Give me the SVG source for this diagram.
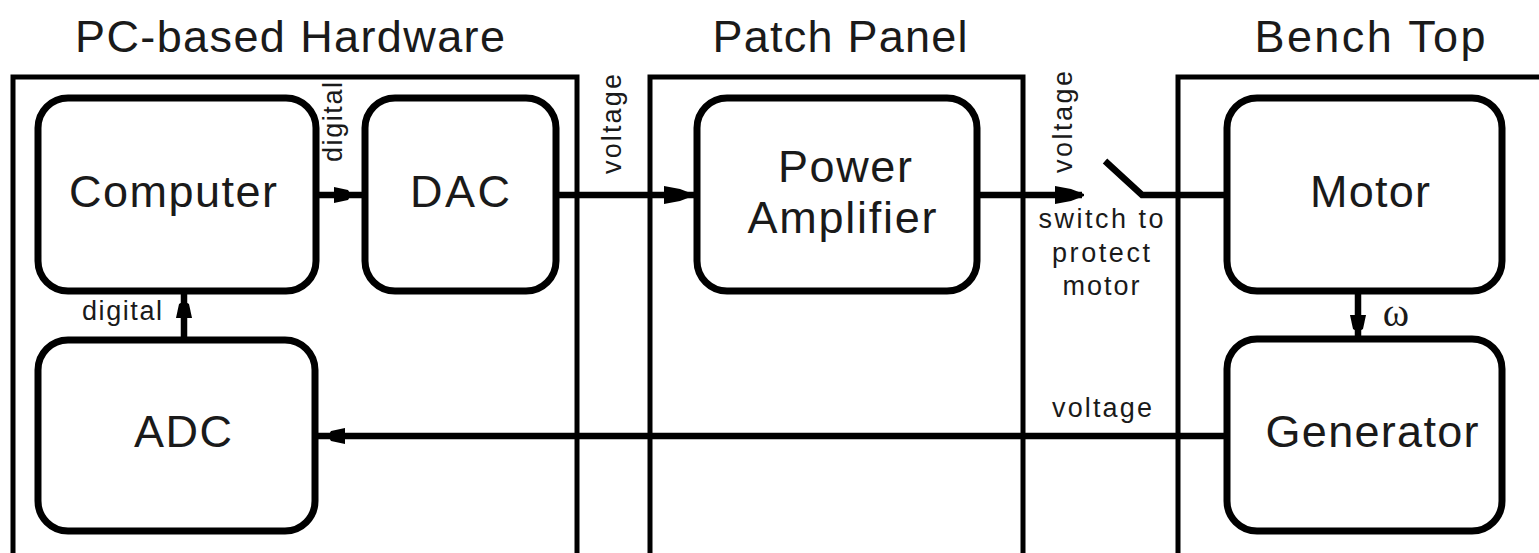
<svg xmlns="http://www.w3.org/2000/svg" xmlns:xlink="http://www.w3.org/1999/xlink" width="1539" height="553" viewBox="0 0 1539 553">
<style>
  .bg { fill: #ffffff; }
  .container { fill: none; stroke: #000; stroke-width: 5; }
  .node { fill: #ffffff; stroke: #000; stroke-width: 7; }
  .conn { fill: none; stroke: #000; stroke-width: 6.5; }
  .head { fill: #000; stroke: none; }
  .title { font-family: "Liberation Sans", Arial, Helvetica, sans-serif; font-size: 45px; fill: #1a1a1a; text-anchor: middle; }
  .label { font-family: "Liberation Sans", Arial, Helvetica, sans-serif; font-size: 45px; fill: #1a1a1a; text-anchor: middle; }
  .small { font-family: "Liberation Sans", Arial, Helvetica, sans-serif; font-size: 27px; fill: #1a1a1a; text-anchor: middle; }
  .omega { font-family: "Liberation Serif", "Times New Roman", serif; font-size: 40px; fill: #1a1a1a; text-anchor: middle; }
</style>
<defs>
  <path id="hs" d="M-17,-8 L-3,-5 L0,0 L-3,5 L-17,8 Z"/>
  <path id="hl" d="M-29,-9 L-13,-6 L0,-1 L0,1 L-13,6 L-29,9 Z"/>
</defs>
<rect class="bg" x="0" y="0" width="1539" height="553"/>

<g id="titles">
  <text class="title" x="290" y="52" textLength="430" lengthAdjust="spacing">PC-based Hardware</text>
  <text class="title" x="840" y="52" textLength="255" lengthAdjust="spacing">Patch Panel</text>
  <text class="title" x="1370" y="52" textLength="231" lengthAdjust="spacing">Bench Top</text>
</g>

<g id="containers">
  <rect id="pc-hardware" class="container" x="13" y="77" width="564" height="520"/>
  <rect id="patch-panel" class="container" x="650" y="77" width="373" height="520"/>
  <rect id="bench-top" class="container" x="1178" y="77" width="420" height="520"/>
</g>

<g id="connectors">
  <!-- Computer -> DAC -->
  <line class="conn" x1="316" y1="195" x2="365" y2="195"/>
  <use xlink:href="#hs" class="head" transform="translate(351,195)"/>
  <!-- DAC -> Power Amplifier -->
  <line class="conn" x1="556" y1="195" x2="697" y2="195"/>
  <use xlink:href="#hl" class="head" transform="translate(693,195)"/>
  <!-- Power Amplifier -> switch -->
  <line class="conn" x1="977" y1="195" x2="1082" y2="195"/>
  <use xlink:href="#hl" class="head" transform="translate(1084,195)"/>
  <!-- switch -->
  <polyline class="conn" points="1105,161 1142,195 1227,195"/>
  <!-- Motor -> Generator -->
  <line class="conn" x1="1358" y1="291" x2="1358" y2="339"/>
  <use xlink:href="#hs" class="head" transform="translate(1358,332) rotate(90)"/>
  <!-- Generator -> ADC -->
  <line class="conn" x1="1227" y1="436" x2="315" y2="436"/>
  <use xlink:href="#hs" class="head" transform="translate(328,436) rotate(180)"/>
  <!-- ADC -> Computer -->
  <line class="conn" x1="184" y1="340" x2="184" y2="291"/>
  <use xlink:href="#hs" class="head" transform="translate(184,301) rotate(-90)"/>
</g>

<g id="connector-labels">
  <text class="small" transform="translate(342,122) rotate(-90)" textLength="80" lengthAdjust="spacing">digital</text>
  <text class="small" x="122" y="320" textLength="80" lengthAdjust="spacing">digital</text>
  <text class="small" transform="translate(621,124) rotate(-90)" textLength="100" lengthAdjust="spacing">voltage</text>
  <text class="small" transform="translate(1072,122) rotate(-90)" textLength="102" lengthAdjust="spacing">voltage</text>
  <text class="small" x="1102" y="417" textLength="100" lengthAdjust="spacing">voltage</text>
  <text class="small" x="1101" y="228" textLength="125" lengthAdjust="spacing">switch to</text>
  <text class="small" x="1101" y="262" textLength="98" lengthAdjust="spacing">protect</text>
  <text class="small" x="1101" y="295" textLength="77" lengthAdjust="spacing">motor</text>
  <text class="omega" x="1396" y="326">ω</text>
</g>

<g id="computer">
  <rect class="node" x="38" y="98" width="278" height="193" rx="30" ry="30"/>
  <text class="label" x="173" y="207" textLength="208" lengthAdjust="spacing">Computer</text>
</g>
<g id="dac">
  <rect class="node" x="365" y="98" width="191" height="193" rx="30" ry="30"/>
  <text class="label" x="460" y="207" textLength="100" lengthAdjust="spacing">DAC</text>
</g>
<g id="power-amplifier">
  <rect class="node" x="697" y="98" width="280" height="193" rx="30" ry="30"/>
  <text class="label" x="845" y="182" textLength="134" lengthAdjust="spacing">Power</text>
  <text class="label" x="842" y="233" textLength="189" lengthAdjust="spacing">Amplifier</text>
</g>
<g id="motor">
  <rect class="node" x="1227" y="98" width="275" height="193" rx="30" ry="30"/>
  <text class="label" x="1370" y="207" textLength="120" lengthAdjust="spacing">Motor</text>
</g>
<g id="adc">
  <rect class="node" x="38" y="340" width="277" height="191" rx="30" ry="30"/>
  <text class="label" x="183" y="447" textLength="98" lengthAdjust="spacing">ADC</text>
</g>
<g id="generator">
  <rect class="node" x="1227" y="339" width="275" height="192" rx="30" ry="30"/>
  <text class="label" x="1372" y="447" textLength="213" lengthAdjust="spacing">Generator</text>
</g>
</svg>
